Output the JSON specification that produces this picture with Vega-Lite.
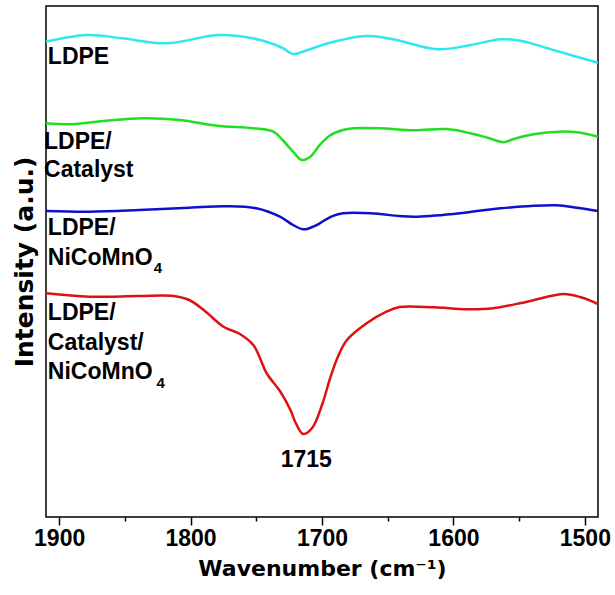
{
  "$schema": "https://vega.github.io/schema/vega-lite/v6.json",
  "width": 552,
  "height": 511,
  "autosize": {"type": "none"},
  "padding": {"left": 46, "top": 6, "right": 17, "bottom": 78},
  "background": "white",
  "config": {
    "view": {"stroke": "black", "strokeWidth": 1.5},
    "axis": {"grid": false}
  },
  "datasets": {
    "spectra": [
      {"s": "LDPE", "w": 1910, "v": 475.3}, {"s": "LDPE", "w": 1879, "v": 482}, {"s": "LDPE", "w": 1852, "v": 478.7},
      {"s": "LDPE", "w": 1818, "v": 473.7}, {"s": "LDPE", "w": 1778, "v": 482}, {"s": "LDPE", "w": 1747, "v": 477},
      {"s": "LDPE", "w": 1730, "v": 469}, {"s": "LDPE", "w": 1722, "v": 463}, {"s": "LDPE", "w": 1711, "v": 467},
      {"s": "LDPE", "w": 1694, "v": 474.3}, {"s": "LDPE", "w": 1666, "v": 481}, {"s": "LDPE", "w": 1646, "v": 477.7},
      {"s": "LDPE", "w": 1612, "v": 467.7}, {"s": "LDPE", "w": 1587, "v": 472}, {"s": "LDPE", "w": 1564, "v": 477.7},
      {"s": "LDPE", "w": 1549, "v": 476.3}, {"s": "LDPE", "w": 1524, "v": 467}, {"s": "LDPE", "w": 1490, "v": 454.3},

      {"s": "LDPE/Catalyst", "w": 1910, "v": 393.7}, {"s": "LDPE/Catalyst", "w": 1890, "v": 392.7}, {"s": "LDPE/Catalyst", "w": 1864, "v": 396.3},
      {"s": "LDPE/Catalyst", "w": 1836, "v": 398.7}, {"s": "LDPE/Catalyst", "w": 1808, "v": 397}, {"s": "LDPE/Catalyst", "w": 1780, "v": 391.3},
      {"s": "LDPE/Catalyst", "w": 1752, "v": 388.7}, {"s": "LDPE/Catalyst", "w": 1737, "v": 385.3}, {"s": "LDPE/Catalyst", "w": 1730, "v": 377},
      {"s": "LDPE/Catalyst", "w": 1722, "v": 365.3}, {"s": "LDPE/Catalyst", "w": 1715.5, "v": 357}, {"s": "LDPE/Catalyst", "w": 1709, "v": 360.3},
      {"s": "LDPE/Catalyst", "w": 1701.5, "v": 372.3}, {"s": "LDPE/Catalyst", "w": 1694, "v": 381.5}, {"s": "LDPE/Catalyst", "w": 1684, "v": 387},
      {"s": "LDPE/Catalyst", "w": 1676, "v": 388.7}, {"s": "LDPE/Catalyst", "w": 1656, "v": 388.7}, {"s": "LDPE/Catalyst", "w": 1630, "v": 386.7},
      {"s": "LDPE/Catalyst", "w": 1605, "v": 388}, {"s": "LDPE/Catalyst", "w": 1587, "v": 383.7}, {"s": "LDPE/Catalyst", "w": 1574, "v": 379.3},
      {"s": "LDPE/Catalyst", "w": 1562, "v": 374.8}, {"s": "LDPE/Catalyst", "w": 1554, "v": 378}, {"s": "LDPE/Catalyst", "w": 1539, "v": 382.7},
      {"s": "LDPE/Catalyst", "w": 1519, "v": 385.3}, {"s": "LDPE/Catalyst", "w": 1506, "v": 384.7}, {"s": "LDPE/Catalyst", "w": 1490, "v": 380.3},

      {"s": "LDPE/NiCoMnO4", "w": 1910, "v": 306}, {"s": "LDPE/NiCoMnO4", "w": 1877, "v": 305.3}, {"s": "LDPE/NiCoMnO4", "w": 1839, "v": 307},
      {"s": "LDPE/NiCoMnO4", "w": 1801, "v": 309.3}, {"s": "LDPE/NiCoMnO4", "w": 1773, "v": 310.7}, {"s": "LDPE/NiCoMnO4", "w": 1750, "v": 308.7},
      {"s": "LDPE/NiCoMnO4", "w": 1732, "v": 300.3}, {"s": "LDPE/NiCoMnO4", "w": 1722, "v": 292}, {"s": "LDPE/NiCoMnO4", "w": 1714, "v": 287.7},
      {"s": "LDPE/NiCoMnO4", "w": 1704, "v": 292}, {"s": "LDPE/NiCoMnO4", "w": 1699, "v": 296}, {"s": "LDPE/NiCoMnO4", "w": 1692, "v": 300.8},
      {"s": "LDPE/NiCoMnO4", "w": 1684, "v": 303.7}, {"s": "LDPE/NiCoMnO4", "w": 1663, "v": 303.7}, {"s": "LDPE/NiCoMnO4", "w": 1641, "v": 301},
      {"s": "LDPE/NiCoMnO4", "w": 1630, "v": 300.3}, {"s": "LDPE/NiCoMnO4", "w": 1600, "v": 303}, {"s": "LDPE/NiCoMnO4", "w": 1564, "v": 308.7},
      {"s": "LDPE/NiCoMnO4", "w": 1522, "v": 311.7}, {"s": "LDPE/NiCoMnO4", "w": 1506, "v": 309.3}, {"s": "LDPE/NiCoMnO4", "w": 1490, "v": 306},

      {"s": "LDPE/Catalyst/NiCoMnO4", "w": 1910, "v": 223.7}, {"s": "LDPE/Catalyst/NiCoMnO4", "w": 1877, "v": 220.3}, {"s": "LDPE/Catalyst/NiCoMnO4", "w": 1839, "v": 221},
      {"s": "LDPE/Catalyst/NiCoMnO4", "w": 1813, "v": 221}, {"s": "LDPE/Catalyst/NiCoMnO4", "w": 1801, "v": 217}, {"s": "LDPE/Catalyst/NiCoMnO4", "w": 1790, "v": 207},
      {"s": "LDPE/Catalyst/NiCoMnO4", "w": 1775, "v": 190.3}, {"s": "LDPE/Catalyst/NiCoMnO4", "w": 1762.5, "v": 183},
      {"s": "LDPE/Catalyst/NiCoMnO4", "w": 1752, "v": 171.5}, {"s": "LDPE/Catalyst/NiCoMnO4", "w": 1742, "v": 143.5}, {"s": "LDPE/Catalyst/NiCoMnO4", "w": 1732, "v": 126},
      {"s": "LDPE/Catalyst/NiCoMnO4", "w": 1724, "v": 107}, {"s": "LDPE/Catalyst/NiCoMnO4", "w": 1720, "v": 94}, {"s": "LDPE/Catalyst/NiCoMnO4", "w": 1714.3, "v": 83},
      {"s": "LDPE/Catalyst/NiCoMnO4", "w": 1707.5, "v": 89}, {"s": "LDPE/Catalyst/NiCoMnO4", "w": 1700, "v": 112},
      {"s": "LDPE/Catalyst/NiCoMnO4", "w": 1694, "v": 138}, {"s": "LDPE/Catalyst/NiCoMnO4", "w": 1688, "v": 160}, {"s": "LDPE/Catalyst/NiCoMnO4", "w": 1681, "v": 177}, {"s": "LDPE/Catalyst/NiCoMnO4", "w": 1666, "v": 193.7},
      {"s": "LDPE/Catalyst/NiCoMnO4", "w": 1651, "v": 205.3}, {"s": "LDPE/Catalyst/NiCoMnO4", "w": 1641, "v": 210}, {"s": "LDPE/Catalyst/NiCoMnO4", "w": 1615, "v": 209.7},
      {"s": "LDPE/Catalyst/NiCoMnO4", "w": 1590, "v": 207.7}, {"s": "LDPE/Catalyst/NiCoMnO4", "w": 1570, "v": 208.7}, {"s": "LDPE/Catalyst/NiCoMnO4", "w": 1544, "v": 215.3},
      {"s": "LDPE/Catalyst/NiCoMnO4", "w": 1516, "v": 223}, {"s": "LDPE/Catalyst/NiCoMnO4", "w": 1503, "v": 219.7}, {"s": "LDPE/Catalyst/NiCoMnO4", "w": 1490, "v": 213}
    ],
    "labels": [
      {"t": "LDPE", "w": 1908.6, "v": 453},
      {"t": "LDPE/", "w": 1911.5, "v": 368},
      {"t": "Catalyst", "w": 1911.5, "v": 340},
      {"t": "LDPE/", "w": 1908.6, "v": 282},
      {"t": "NiCoMnO", "w": 1908.6, "v": 252},
      {"t": "LDPE/", "w": 1908.6, "v": 197},
      {"t": "Catalyst/", "w": 1908.6, "v": 167},
      {"t": "NiCoMnO", "w": 1908.6, "v": 138}
    ],
    "subs": [
      {"t": "4", "w": 1828, "v": 244},
      {"t": "4", "w": 1826, "v": 129}
    ],
    "peaks": [
      {"t": "1715", "w": 1712, "v": 50}
    ]
  },
  "encoding": {
    "x": {
      "field": "w", "type": "quantitative",
      "scale": {"domain": [1910, 1490], "nice": false, "zero": false},
      "axis": {
        "title": "Wavenumber (cm⁻¹)",
        "values": [1900, 1850, 1800, 1750, 1700, 1650, 1600, 1550, 1500],
        "format": "d",
        "labelExpr": "datum.value % 100 === 0 ? datum.label : ''",
        "labelOverlap": false,
        "labelFont": "Liberation Sans", "labelFontWeight": "bold", "labelFontSize": 23, "labelColor": "black",
        "labelPadding": 2,
        "tickColor": "black", "tickWidth": 1.5,
        "tickSize": {"condition": {"test": "datum.value % 100 === 0", "value": 8}, "value": 4},
        "domain": false,
        "titleFont": "DejaVu Sans", "titleFontWeight": "bold", "titleFontSize": 22, "titleColor": "black",
        "titlePadding": 8
      }
    },
    "y": {
      "field": "v", "type": "quantitative",
      "scale": {"domain": [0, 511], "nice": false, "zero": false},
      "axis": {
        "title": "Intensity (a.u.)",
        "labels": false, "ticks": false, "domain": false,
        "titleFont": "DejaVu Sans", "titleFontWeight": "bold", "titleFontSize": 25, "titleColor": "black",
        "titlePadding": 9
      }
    }
  },
  "layer": [
    {
      "data": {"name": "spectra"},
      "mark": {"type": "line", "interpolate": "catmull-rom", "strokeWidth": 2.5},
      "encoding": {
        "color": {
          "field": "s", "type": "nominal", "legend": null,
          "scale": {
            "domain": ["LDPE", "LDPE/Catalyst", "LDPE/NiCoMnO4", "LDPE/Catalyst/NiCoMnO4"],
            "range": ["#2EE8EE", "#22DD22", "#1010CC", "#DD1111"]
          }
        }
      }
    },
    {
      "data": {"name": "labels"},
      "mark": {"type": "text", "align": "left", "baseline": "alphabetic", "font": "Liberation Sans", "fontWeight": "bold", "fontSize": 23, "color": "black"},
      "encoding": {"text": {"field": "t"}}
    },
    {
      "data": {"name": "subs"},
      "mark": {"type": "text", "align": "left", "baseline": "alphabetic", "font": "Liberation Sans", "fontWeight": "bold", "fontSize": 15, "color": "black"},
      "encoding": {"text": {"field": "t"}}
    },
    {
      "data": {"name": "peaks"},
      "mark": {"type": "text", "align": "center", "baseline": "alphabetic", "font": "Liberation Sans", "fontWeight": "bold", "fontSize": 23, "color": "black"},
      "encoding": {"text": {"field": "t"}}
    }
  ]
}
